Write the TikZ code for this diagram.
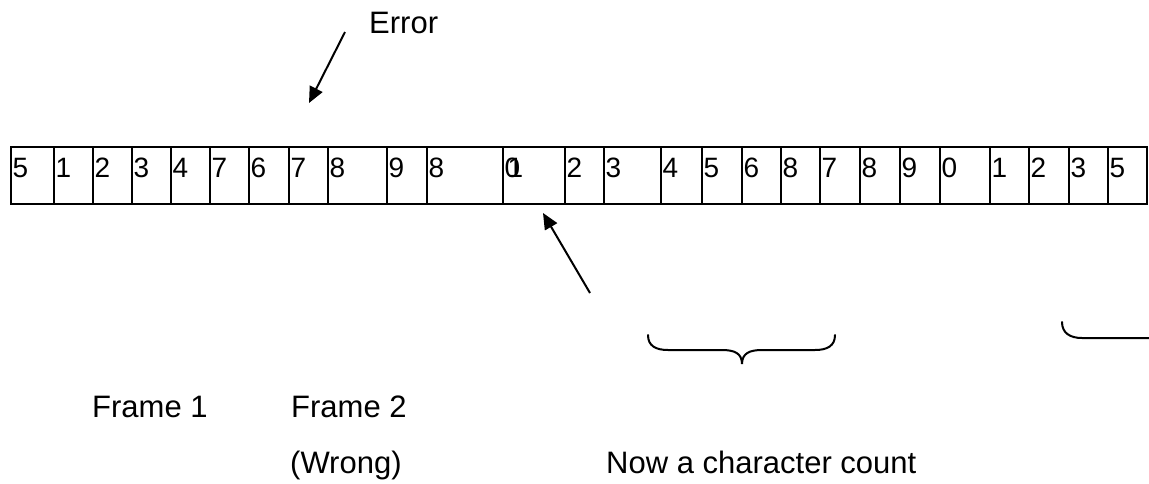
\documentclass[tikz,border=0pt]{standalone}
\usepackage{fontspec}
\setmainfont{Liberation Sans}
\usetikzlibrary{arrows.meta}
\begin{document}
\begin{tikzpicture}[x=1pt,y=-1pt,
  cellbox/.style={draw=black,line width=2pt},
  digit/.style={anchor=base west,inner sep=0pt,font=\fontsize{28}{32}\selectfont},
  label/.style={anchor=base west,inner sep=0pt,font=\fontsize{31}{36}\selectfont},
  arr/.style={line width=2pt,-{Triangle[length=16pt,width=14pt]}},
  bracestyle/.style={line width=2pt,line cap=round}]
\useasboundingbox (0,0) rectangle (1149,483);
% cells
\foreach \a/\b/\d [count=\i] in {11/54/5,54/93/1,93/132/2,132/171/3,171/210/4,210/249/7,249/289/6,289/328/7,328/387/8,387/427/9,427/503/8,503/565/0,565/604/2,604/661/3,661/702/4,702/742/5,742/781/6,781/820/8,820/860/7,860/900/8,900/940/9,940/990/0,990/1029/1,1029/1069/2,1069/1108/3,1108/1147/5}{
  \draw[cellbox] (\a,147) rectangle (\b,204);
  \node[digit] (d\i) at (\a+1.5,177) {\d};
}
\node[digit] (d12b) at (503+4.5,177) {1};
% labels
\node[label] (err) at (369,33) {Error};
\node[label] (f1) at (92,417) {Frame 1};
\node[label] (f2) at (291,417) {Frame 2};
\node[label] (wrong) at (290,473) {(Wrong)};
\node[label] (count) at (606,473) {Now a character count};
% arrows
\coordinate (errtail) at (345,32);
\coordinate (errtip) at (309,103);
\draw[arr] (errtail) -- (errtip);
\coordinate (ctail) at (590,293);
\coordinate (ctip) at (543,213);
\draw[arr] (ctail) -- (ctip);
% braces
\draw[bracestyle] (648,335) .. controls (648,346) and (656,350) .. (668,350) -- (722,350)
   .. controls (734,350) and (742,353) .. (742,364)
   .. controls (742,353) and (750,350) .. (762,350) -- (815,350)
   .. controls (827,350) and (835,346) .. (835,335);
\draw[bracestyle] (1062,322) .. controls (1062,333) and (1070,338) .. (1082,338) -- (1149,338);
\end{tikzpicture}
\end{document}
